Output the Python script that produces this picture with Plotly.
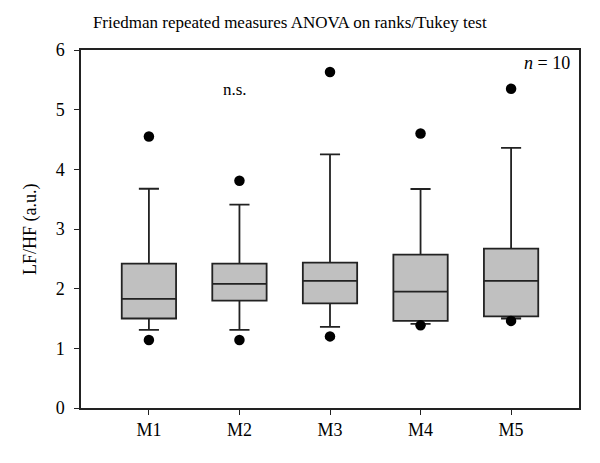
import plotly.graph_objects as go

categories = ["M1", "M2", "M3", "M4", "M5"]
q1 = [1.50, 1.80, 1.755, 1.46, 1.535]
median = [1.83, 2.08, 2.13, 1.95, 2.13]
q3 = [2.42, 2.42, 2.435, 2.57, 2.67]
lower_whisker = [1.31, 1.31, 1.36, 1.41, 1.50]
upper_whisker = [3.675, 3.41, 4.25, 3.67, 4.36]
outlier_cat = ["M1", "M1", "M2", "M2", "M3", "M3", "M4", "M4", "M5", "M5"]
outlier_val = [4.55, 1.14, 3.81, 1.14, 5.63, 1.20, 4.60, 1.385, 5.35, 1.46]
y_ticks = [0, 1, 2, 3, 4, 5, 6]

FONT = "Liberation Serif"
INK = "#222222"

fig = go.Figure()
fig.add_trace(go.Box(
    x=categories, q1=q1, median=median, q3=q3,
    lowerfence=lower_whisker, upperfence=upper_whisker,
    boxpoints=False, width=0.6, whiskerwidth=0.37,
    fillcolor="#c0c0c0", line=dict(color=INK, width=1.8),
    showlegend=False, hoverinfo="skip",
))
fig.add_trace(go.Scatter(
    x=outlier_cat, y=outlier_val, mode="markers",
    marker=dict(color="black", size=10.5),
    showlegend=False, hoverinfo="skip",
))

fig.update_layout(
    width=600, height=463,
    margin=dict(l=81, r=21, t=50, b=55),
    paper_bgcolor="white", plot_bgcolor="white",
    font=dict(family=FONT, size=17, color="black"),
    title=dict(text="Friedman repeated measures ANOVA on ranks/Tukey test",
               xref="container", x=0.483, xanchor="center",
               yref="container", y=0.952, yanchor="middle",
               font=dict(family=FONT, size=17, color="black")),
    xaxis=dict(
        type="category", categoryorder="array", categoryarray=categories,
        range=[-0.75, 4.75], showline=True, linecolor=INK, linewidth=1.5,
        mirror=True, ticks="outside", ticklen=5, tickcolor=INK, tickwidth=1.3,
        showgrid=False, zeroline=False, automargin=False,
        tickfont=dict(family=FONT, size=18),
    ),
    yaxis=dict(
        range=[0, 6], tickvals=y_ticks, showline=True, linecolor=INK, linewidth=1.5,
        mirror=True, ticks="outside", ticklen=5, tickcolor=INK, tickwidth=1.3,
        showgrid=False, zeroline=False, automargin=False, ticklabelstandoff=6,
        tickfont=dict(family=FONT, size=18),
    ),
    annotations=[
        dict(text="LF/HF (a.u.)", x=(30 - 81) / 498, y=0.5, xref="paper", yref="paper",
             textangle=-90, showarrow=False, xanchor="center", yanchor="middle",
             font=dict(family=FONT, size=18)),
        dict(text="n.s.", x=1.1, y=5.33, xref="x", yref="y", showarrow=False,
             xanchor="right", yanchor="middle", font=dict(family=FONT, size=17)),
        dict(text="<i>n</i> = 10", x=0.985, y=0.9637, xref="paper", yref="paper",
             showarrow=False, xanchor="right", yanchor="middle",
             font=dict(family=FONT, size=18)),
    ],
)

fig.write_html("out.html", config={"displayModeBar": False},
               post_script="document.body.style.margin='0';")
